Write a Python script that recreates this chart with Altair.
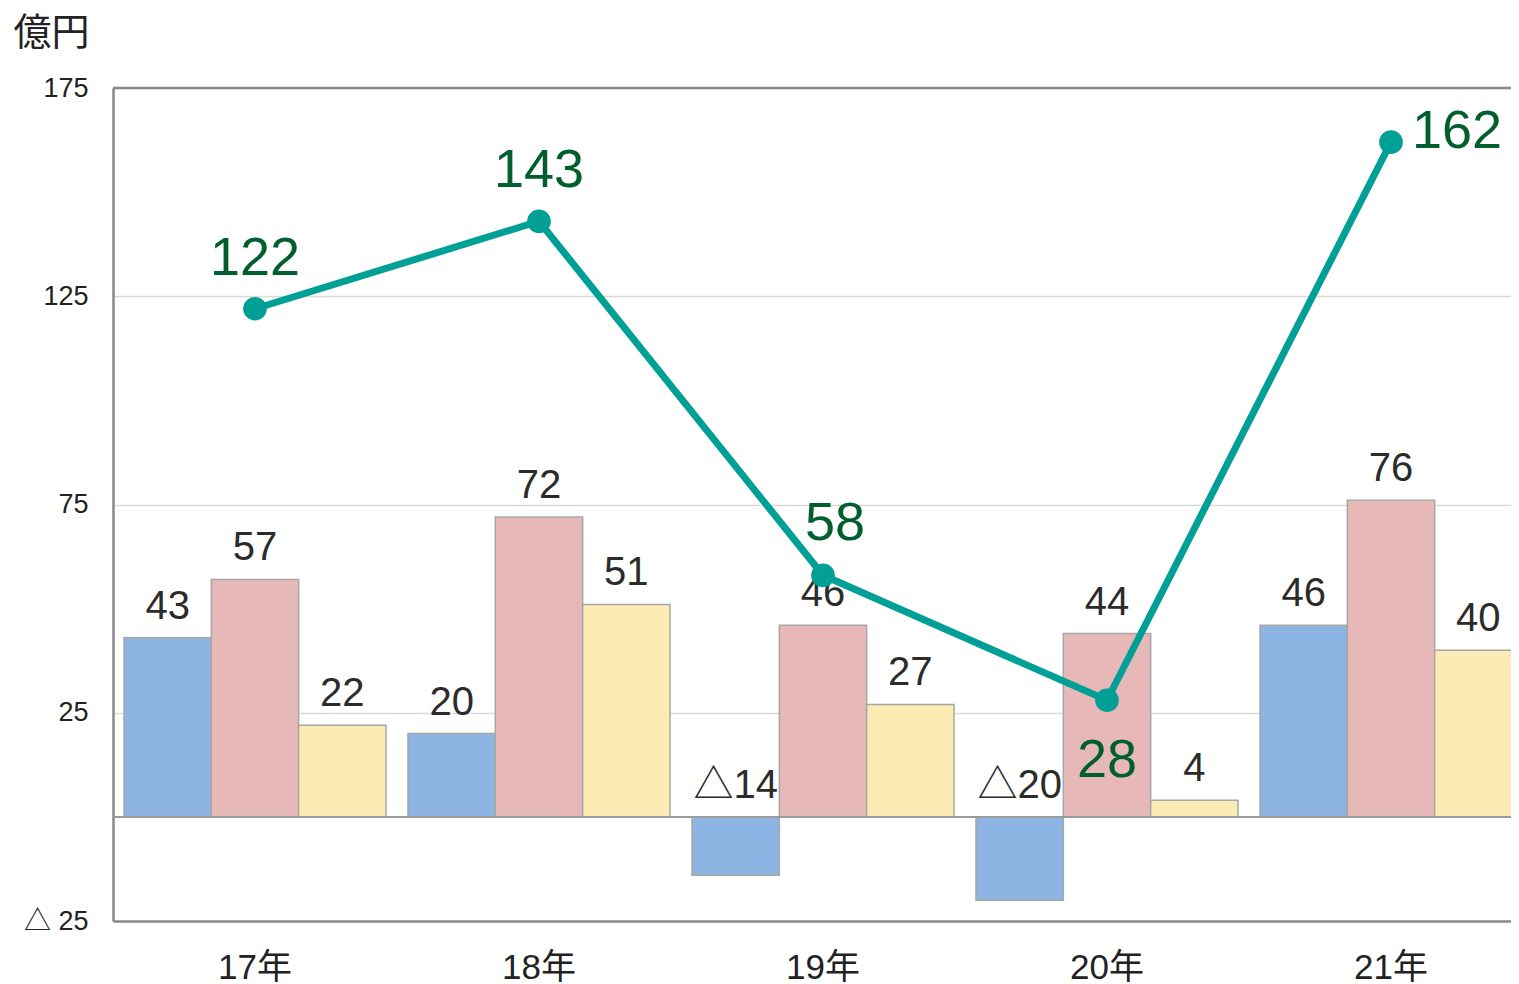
import altair as alt
import pandas as pd

# ---- data ----
years = ["17年", "18年", "19年", "20年", "21年"]
series = ["系列1", "系列2", "系列3"]
s1 = [43, 20, -14, -20, 46]
s2 = [57, 72, 46, 44, 76]
s3 = [22, 51, 27, 4, 40]
total = [122, 143, 58, 28, 162]
total_label_pos = ["above", "above", "above_r", "below", "right"]
y_ticks = [-25, 25, 75, 125, 175]
bar_colors = ["#8EB4E3", "#E6B9B8", "#FCECB4"]

FONT = "Liberation Sans, Noto Sans CJK JP"
LINE_COLOR = "#00A096"
LABEL_GREEN = "#005E2F"
FRAME = "#898989"

rows = []
for i, y in enumerate(years):
    for s, vals in zip(series, [s1, s2, s3]):
        rows.append({"year": y, "series": s, "value": vals[i]})
bar_df = pd.DataFrame(rows)
tot_df = pd.DataFrame({"year": years, "total": total, "pos": total_label_pos})
frame_df = pd.DataFrame({"v": [175]})
zero_df = pd.DataFrame({"v": [0]})

x_scale = alt.Scale(domain=years, range=[0, 1420], paddingInner=0.0775, paddingOuter=0.0387)
y_scale = alt.Scale(domain=[-25, 175], nice=False, zero=False)


def X():
    return alt.X(
        "year:N",
        sort=years,
        scale=x_scale,
        axis=alt.Axis(
            title=None,
            domain=True,
            domainColor=FRAME,
            domainWidth=2.5,
            ticks=False,
            grid=False,
            labelFontSize=35,
            labelColor="#222222",
            labelPadding=29,
            labelAngle=0,
        ),
    )


def Y(field):
    return alt.Y(
        field,
        scale=y_scale,
        axis=alt.Axis(
            values=y_ticks,
            labelExpr="datum.value < 0 ? '△ ' + abs(datum.value) : datum.value",
            grid=True,
            gridColor="#D9D9D9",
            gridWidth=1.5,
            domain=True,
            domainColor=FRAME,
            domainWidth=2.5,
            ticks=False,
            labelFontSize=27,
            labelColor="#222222",
            labelPadding=25,
            title="億円",
            titleAngle=0,
            titleAlign="left",
            titleBaseline="alphabetic",
            titleX=-100,
            titleY=-44,
            titleFontSize=38,
            titleFontWeight="normal",
            titleColor="#222222",
        ),
    )


xoff = alt.XOffset("series:N", sort=series, scale=alt.Scale(paddingInner=0, paddingOuter=0))

bars = alt.Chart(bar_df).mark_bar(stroke="#A6A6A6", strokeWidth=1.5).encode(
    x=X(),
    xOffset=xoff,
    y=Y("value:Q"),
    color=alt.Color("series:N", sort=series, scale=alt.Scale(domain=series, range=bar_colors), legend=None),
)

bar_labels = alt.Chart(bar_df).transform_calculate(
    ly="max(datum.value, 0)",
    lt="datum.value < 0 ? '△' + abs(datum.value) : '' + datum.value",
).mark_text(fontSize=40, color="#2B2B2B", baseline="alphabetic", dy=-19).encode(
    x=X(),
    xOffset=xoff,
    y=alt.Y("ly:Q", scale=y_scale),
    text="lt:N",
)

top_rule = alt.Chart(frame_df).mark_rule(color=FRAME, strokeWidth=2.5).encode(
    y=alt.Y("v:Q", scale=y_scale)
)
zero_rule = alt.Chart(zero_df).mark_rule(color="#9A9A9A", strokeWidth=2).encode(
    y=alt.Y("v:Q", scale=y_scale)
)

line = alt.Chart(tot_df).mark_line(color=LINE_COLOR, strokeWidth=7).encode(
    x=X(), y=alt.Y("total:Q", scale=y_scale)
)
points = alt.Chart(tot_df).mark_circle(color=LINE_COLOR, size=560, opacity=1).encode(
    x=X(), y=alt.Y("total:Q", scale=y_scale)
)

base_tot = alt.Chart(tot_df)


def tot_label(pos, **kw):
    return base_tot.transform_filter(f"datum.pos == '{pos}'").mark_text(
        fontSize=54, color=LABEL_GREEN, baseline="alphabetic", **kw
    ).encode(x=X(), y=alt.Y("total:Q", scale=y_scale), text="total:Q")


lab_above = tot_label("above", dy=-34)
lab_above_r = tot_label("above_r", dy=-35, dx=12)
lab_below = tot_label("below", dy=77)
lab_right = tot_label("right", align="left", dx=21, dy=6)

chart = (
    alt.layer(bars, zero_rule, top_rule, bar_labels, line, points,
              lab_above, lab_above_r, lab_below, lab_right)
    .properties(
        width=1398,
        height=833,
        autosize=alt.AutoSizeParams(type="none"),
        padding={"left": 105, "top": 80, "right": 0, "bottom": 65},
    )
    .configure(font=FONT)
    .configure_view(stroke=None)
)

chart.save("out.html", embed_options={"renderer": "svg", "actions": False})
